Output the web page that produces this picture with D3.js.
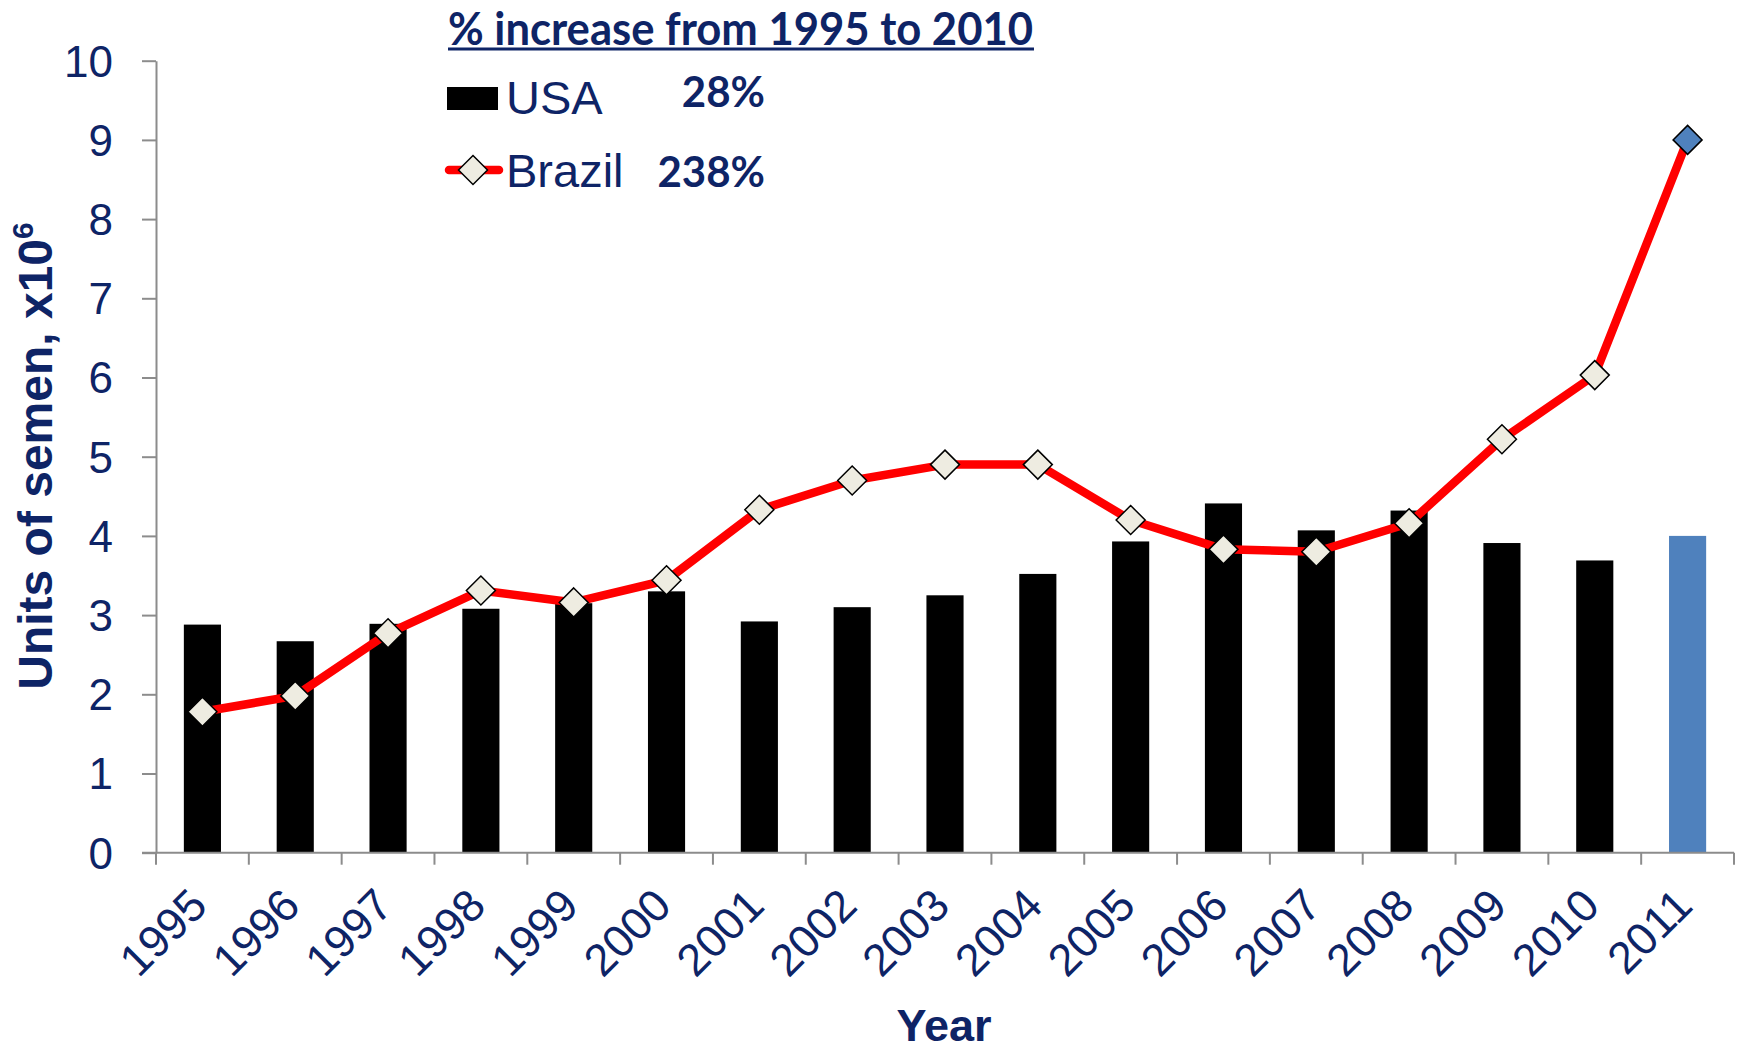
<!DOCTYPE html>
<html>
<head>
<meta charset="utf-8">
<script src="https://cdn.jsdelivr.net/npm/d3@7/dist/d3.min.js"></script>
<style>
  html, body { margin: 0; padding: 0; background: #fff; }
  svg { display: block; }
</style>
</head>
<body>
<svg id="chart" width="1744" height="1051"></svg>
<script>
const years = ["1995","1996","1997","1998","1999","2000","2001","2002","2003","2004","2005","2006","2007","2008","2009","2010","2011"];
const usa = [2.88, 2.67, 2.89, 3.08, 3.15, 3.30, 2.92, 3.10, 3.25, 3.52, 3.93, 4.41, 4.07, 4.32, 3.91, 3.69, 4.00];
const brazil = [1.78, 1.98, 2.77, 3.31, 3.16, 3.44, 4.33, 4.70, 4.90, 4.90, 4.20, 3.83, 3.80, 4.16, 5.22, 6.03, 9.00];
const yTicks = [0,1,2,3,4,5,6,7,8,9,10];
const highlightYear = "2011";
const seriesNames = ["USA", "Brazil"];
const increases = ["28%", "238%"];
const titleText = "% increase from 1995 to 2010";

(function () {
const navy = "#0E2466";
const axisGray = "#8C8C8C";
const blue = "#4F81BD";
const diamondFill = "#EEECE1";

const svg = d3.select("#chart");
const plotLeft = 156, plotRight = 1734, plotTop = 60.7, plotBottom = 852.7;

const xEdge = d3.scaleBand().domain(years).range([plotLeft, plotRight]).padding(0);
const xBar = d3.scaleBand().domain(years).range([plotLeft, plotRight]).paddingInner(0.6).paddingOuter(0.3);
const y = d3.scaleLinear().domain([0, 10]).range([plotBottom, plotTop]);

// Y axis
const yAxis = svg.append("g")
  .attr("transform", `translate(${plotLeft},0)`)
  .call(d3.axisLeft(y).tickValues(yTicks).tickSize(14).tickPadding(29).tickSizeOuter(0).tickFormat(d3.format("d")));
yAxis.select(".domain").attr("stroke", axisGray).attr("stroke-width", 2);
yAxis.selectAll(".tick line").attr("stroke", axisGray).attr("stroke-width", 2);
yAxis.selectAll(".tick text")
  .attr("fill", navy)
  .attr("font-family", "'Liberation Sans', Arial, sans-serif")
  .attr("font-size", 44)
  .attr("dy", "0.35em");

// Bars
svg.append("g").selectAll("rect")
  .data(years.map((yr, i) => ({yr, v: usa[i]})))
  .join("rect")
  .attr("x", d => xBar(d.yr))
  .attr("width", xBar.bandwidth())
  .attr("y", d => y(d.v))
  .attr("height", d => y(0) - y(d.v))
  .attr("fill", d => d.yr === highlightYear ? blue : "#000");

// X axis line & ticks at band edges
const xAxisG = svg.append("g");
xAxisG.append("line")
  .attr("x1", plotLeft - 14).attr("x2", plotRight)
  .attr("y1", y(0)).attr("y2", y(0))
  .attr("stroke", axisGray).attr("stroke-width", 2);
const edges = years.map(yr => xEdge(yr)).concat([xEdge(years[years.length-1]) + xEdge.bandwidth()]);
xAxisG.selectAll("line.tk").data(edges).join("line")
  .attr("class", "tk")
  .attr("x1", d => d).attr("x2", d => d)
  .attr("y1", y(0)).attr("y2", y(0) + 12)
  .attr("stroke", axisGray).attr("stroke-width", 2);

// X labels rotated
xAxisG.selectAll("text.xl").data(years).join("text")
  .attr("class", "xl")
  .attr("transform", d => `translate(${xEdge(d) + xEdge.bandwidth()/2 + 7},${908}) rotate(-45)`)
  .attr("text-anchor", "end")
  .attr("fill", navy)
  .attr("font-family", "'Liberation Sans', Arial, sans-serif")
  .attr("font-size", 45)
  .text(d => d);

// Brazil line
const pts = years.map((yr, i) => ({yr, v: brazil[i]}));
const cx = d => xEdge(d.yr) + xEdge.bandwidth()/2;
svg.append("path")
  .datum(pts)
  .attr("fill", "none")
  .attr("stroke", "#FF0000")
  .attr("stroke-width", 8.5)
  .attr("stroke-linejoin", "round")
  .attr("d", d3.line().x(cx).y(d => y(d.v)));

const dHalfW = 14.5, dHalfH = 14.5;
const diamondPath = `M0,${-dHalfH}L${dHalfW},0L0,${dHalfH}L${-dHalfW},0Z`;
svg.append("g").selectAll("path")
  .data(pts)
  .join("path")
  .attr("transform", d => `translate(${cx(d)},${y(d.v)})`)
  .attr("d", diamondPath)
  .attr("fill", d => d.yr === highlightYear ? blue : diamondFill)
  .attr("stroke", "#000")
  .attr("stroke-width", 1.5);

// Y axis title
const yt = svg.append("text")
  .attr("transform", `translate(52,456) rotate(-90)`)
  .attr("text-anchor", "middle")
  .attr("fill", navy)
  .attr("font-family", "'Liberation Sans', Arial, sans-serif")
  .attr("font-weight", "bold")
  .attr("font-size", 48);
yt.append("tspan").text("Units of semen, x10");
yt.append("tspan").attr("font-size", 30).attr("dy", -19).text("6");

// X axis title
svg.append("text")
  .attr("x", 944).attr("y", 1041)
  .attr("text-anchor", "middle")
  .attr("fill", navy)
  .attr("font-family", "'Liberation Sans', Arial, sans-serif")
  .attr("font-weight", "bold")
  .attr("font-size", 45)
  .text("Year");

// Legend title
svg.append("text")
  .attr("x", 448).attr("y", 45)
  .attr("fill", navy)
  .attr("font-family", "Lato, 'Open Sans', sans-serif")
  .attr("font-weight", "bold")
  .attr("font-size", 45)
  .attr("textLength", 585)
  .attr("lengthAdjust", "spacingAndGlyphs")
  .text(titleText);
svg.append("rect")
  .attr("x", 448).attr("y", 47.5).attr("width", 586).attr("height", 3)
  .attr("fill", navy);

// Legend USA
svg.append("rect").attr("x", 447).attr("y", 87).attr("width", 51).attr("height", 23).attr("fill", "#000");
svg.append("text")
  .attr("x", 506).attr("y", 114)
  .attr("fill", navy)
  .attr("font-family", "'Liberation Sans', Arial, sans-serif")
  .attr("font-size", 47)
  .text(seriesNames[0]);

// Legend Brazil
svg.append("line").attr("x1", 449).attr("x2", 499).attr("y1", 170).attr("y2", 170)
  .attr("stroke", "#FF0000").attr("stroke-width", 8.5).attr("stroke-linecap", "round");
svg.append("path").attr("transform", "translate(473,170)").attr("d", diamondPath)
  .attr("fill", diamondFill).attr("stroke", "#000").attr("stroke-width", 1.5);
svg.append("text")
  .attr("x", 506).attr("y", 187)
  .attr("fill", navy)
  .attr("font-family", "'Liberation Sans', Arial, sans-serif")
  .attr("font-size", 47)
  .text(seriesNames[1]);

// Percent increases
svg.selectAll("text.pct").data(increases).join("text")
  .attr("class", "pct")
  .attr("x", 765)
  .attr("y", (d, i) => i === 0 ? 107 : 187)
  .attr("text-anchor", "end")
  .attr("fill", navy)
  .attr("font-family", "Lato, 'Open Sans', sans-serif")
  .attr("font-weight", "bold")
  .attr("font-size", 42)
  .text(d => d);
})();
</script>
</body>
</html>
